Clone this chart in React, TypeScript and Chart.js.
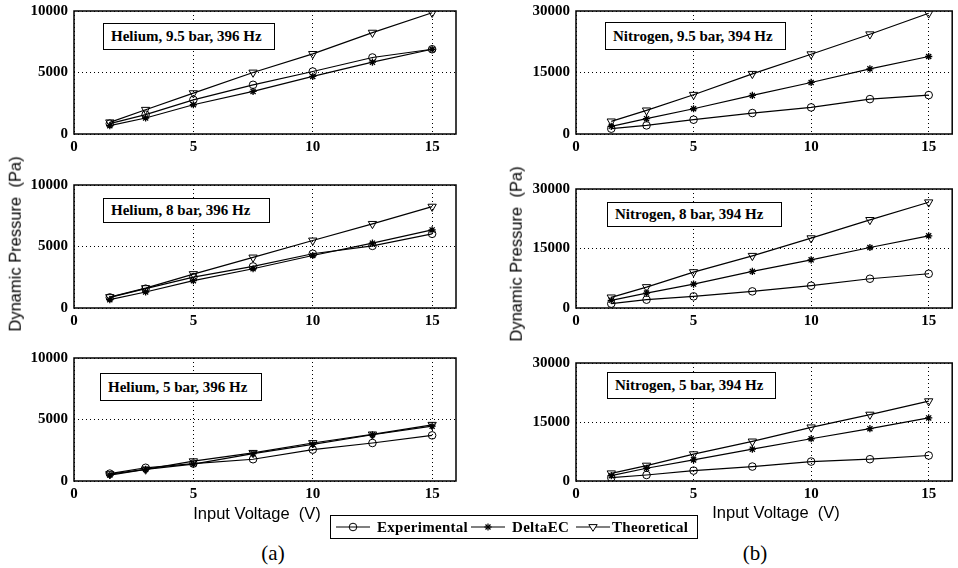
import React, { useEffect, useRef } from "react";
import { Chart, registerables } from "chart.js";

Chart.register(...registerables);

// ---------- data ----------
const voltages = [1.5, 3, 5, 7.5, 10, 12.5, 15];
const xTicks = [0, 5, 10, 15];
const heliumYTicks = [0, 5000, 10000];
const nitrogenYTicks = [0, 15000, 30000];
const seriesNames = ["Experimental", "DeltaEC", "Theoretical"];

const he95Exp = [840, 1570, 2780, 4000, 5080, 6220, 6890];
const he95Delta = [680, 1300, 2380, 3460, 4680, 5840, 6890];
const he95Theo = [950, 1970, 3320, 5000, 6510, 8240, 9860];

const he8Exp = [860, 1570, 2510, 3380, 4410, 5050, 6030];
const he8Delta = [680, 1300, 2220, 3190, 4270, 5270, 6350];
const he8Theo = [890, 1620, 2760, 4110, 5490, 6840, 8240];

const he5Exp = [600, 1075, 1420, 1770, 2550, 3090, 3710];
const he5Delta = [480, 940, 1370, 2230, 2980, 3760, 4460];
const he5Theo = [560, 940, 1610, 2290, 3090, 3790, 4570];

const n95Exp = [1300, 2100, 3490, 5110, 6490, 8510, 9490];
const n95Delta = [1870, 3730, 6160, 9400, 12570, 15900, 18900];
const n95Theo = [3080, 5760, 9570, 14680, 19460, 24330, 29440];

const n8Exp = [1090, 2100, 2930, 4190, 5620, 7380, 8630];
const n8Delta = [1930, 3770, 6030, 9220, 12150, 15250, 18190];
const n8Theo = [2680, 5280, 9050, 13160, 17600, 22210, 26650];

const n5Exp = [850, 1530, 2640, 3670, 4940, 5540, 6480];
const n5Delta = [1360, 3240, 5370, 8100, 10740, 13300, 16030];
const n5Theo = [1960, 3920, 6820, 10060, 13640, 16880, 20290];

// ---------- layout ----------
const SERIF = '"Liberation Serif", "Times New Roman", serif';
const SANS = '"Liberation Sans", Arial, sans-serif';
const Y_AXIS_W = 60;
const TOP_PAD = 18;
const X_AXIS_H = 28;

type PanelDef = {
  label: string;
  plot: { l: number; t: number; r: number; b: number };
  box: { x: number; y: number; w: number; h: number };
  yTicks: number[];
  exp: number[];
  delta: number[];
  theo: number[];
};

const panels: PanelDef[] = [
  { label: "Helium, 9.5 bar, 396 Hz", plot: { l: 74, t: 11, r: 456, b: 134 }, box: { x: 103, y: 23, w: 172, h: 27 }, yTicks: heliumYTicks, exp: he95Exp, delta: he95Delta, theo: he95Theo },
  { label: "Helium, 8 bar, 396 Hz", plot: { l: 74, t: 185, r: 456, b: 308 }, box: { x: 103, y: 198, w: 167, h: 25 }, yTicks: heliumYTicks, exp: he8Exp, delta: he8Delta, theo: he8Theo },
  { label: "Helium, 5 bar, 396 Hz", plot: { l: 74, t: 358, r: 456, b: 481 }, box: { x: 100, y: 373, w: 162, h: 28 }, yTicks: heliumYTicks, exp: he5Exp, delta: he5Delta, theo: he5Theo },
  { label: "Nitrogen, 9.5 bar, 394 Hz", plot: { l: 576, t: 11, r: 957, b: 134 }, box: { x: 605, y: 22, w: 181, h: 28 }, yTicks: nitrogenYTicks, exp: n95Exp, delta: n95Delta, theo: n95Theo },
  { label: "Nitrogen, 8 bar, 394 Hz", plot: { l: 576, t: 189, r: 957, b: 308 }, box: { x: 607, y: 202, w: 175, h: 25 }, yTicks: nitrogenYTicks, exp: n8Exp, delta: n8Delta, theo: n8Theo },
  { label: "Nitrogen, 5 bar, 394 Hz", plot: { l: 576, t: 363, r: 957, b: 481 }, box: { x: 607, y: 372, w: 169, h: 27 }, yTicks: nitrogenYTicks, exp: n5Exp, delta: n5Delta, theo: n5Theo },
];

const framePlugin = {
  id: "frame",
  beforeDatasetsDraw(chart: any) {
    const { ctx, chartArea } = chart;
    ctx.save();
    ctx.strokeStyle = "#000";
    ctx.lineWidth = 1.5;
    ctx.strokeRect(chartArea.left, chartArea.top, chartArea.right - chartArea.left, chartArea.bottom - chartArea.top);
    ctx.restore();
  },
};

const markerStyles = [
  { pointStyle: "circle", pointRadius: 3.8, pointRotation: 0, pointBorderWidth: 1 },
  { pointStyle: "star", pointRadius: 3.6, pointRotation: 0, pointBorderWidth: 1.3 },
  { pointStyle: "triangle", pointRadius: 4.8, pointRotation: 180, pointBorderWidth: 1 },
];

function Panel({ p }: { p: PanelDef }) {
  const ref = useRef<HTMLCanvasElement>(null);
  const rightPad = p.plot.r >= 950 ? 958 - p.plot.r : 10;
  const w = Y_AXIS_W + (p.plot.r - p.plot.l) + rightPad;
  const h = TOP_PAD + (p.plot.b - p.plot.t) + X_AXIS_H;
  const left = p.plot.l - Y_AXIS_W;
  const top = p.plot.t - TOP_PAD;

  useEffect(() => {
    const seriesVals = [p.exp, p.delta, p.theo];
    const datasets = seriesVals.map((vals, si) => ({
      label: seriesNames[si],
      data: voltages.map((v, i) => ({ x: v, y: vals[i] })),
      borderColor: "#000",
      borderWidth: 1.2,
      pointBorderColor: "#000",
      pointBackgroundColor: "rgba(0,0,0,0)",
      ...markerStyles[si],
      tension: 0,
      fill: false,
    }));
    const tickFont = { family: SERIF, size: 15, weight: "bold" as const };
    const yMax = p.yTicks[p.yTicks.length - 1];
    const chart = new Chart(ref.current as HTMLCanvasElement, {
      type: "line",
      data: { datasets: datasets as any },
      options: {
        animation: false,
        responsive: false,
        events: [],
        layout: { padding: { top: TOP_PAD, right: rightPad, left: 0, bottom: 0 } },
        plugins: { legend: { display: false }, tooltip: { enabled: false } },
        scales: {
          x: {
            type: "linear",
            min: 0,
            max: 16,
            afterBuildTicks: (s: any) => {
              s.ticks = xTicks.map((v) => ({ value: v }));
            },
            afterFit: (s: any) => {
              s.height = X_AXIS_H;
            },
            grid: { color: "#000", lineWidth: 1, drawTicks: false },
            border: { display: false, dash: [1, 3] },
            ticks: { color: "#000", font: tickFont, padding: 4, maxRotation: 0, callback: (v: any) => String(v) },
          },
          y: {
            type: "linear",
            min: 0,
            max: yMax,
            afterBuildTicks: (s: any) => {
              s.ticks = p.yTicks.map((v) => ({ value: v }));
            },
            afterFit: (s: any) => {
              s.width = Y_AXIS_W;
            },
            grid: { color: "#000", lineWidth: 1, drawTicks: false },
            border: { display: false, dash: [1, 3] },
            ticks: { color: "#000", font: tickFont, padding: 6, callback: (v: any) => String(v) },
          },
        },
      },
      plugins: [framePlugin],
    });
    return () => chart.destroy();
  }, []);

  return (
    <>
      <canvas
        ref={ref}
        width={w}
        height={h}
        style={{ position: "absolute", left, top, width: w, height: h }}
      />
      <div
        style={{
          position: "absolute",
          left: p.box.x,
          top: p.box.y,
          width: p.box.w,
          height: p.box.h,
          boxSizing: "border-box",
          border: "1.2px solid #000",
          background: "#fff",
          fontFamily: SERIF,
          fontWeight: "bold",
          fontSize: 15,
          display: "flex",
          alignItems: "center",
          paddingLeft: 7,
          whiteSpace: "nowrap",
        }}
      >
        {p.label}
      </div>
    </>
  );
}

function LegendSample({ kind }: { kind: number }) {
  return (
    <svg width={34} height={14} style={{ display: "block" }}>
      <line x1={0} y1={7} x2={34} y2={7} stroke="#000" strokeWidth={1.2} />
      {kind === 0 && <circle cx={17} cy={7} r={3.8} fill="none" stroke="#000" strokeWidth={1} />}
      {kind === 1 && (
        <g stroke="#000" strokeWidth={1.2}>
          <line x1={17} y1={3.4} x2={17} y2={10.6} />
          <line x1={13.4} y1={7} x2={20.6} y2={7} />
          <line x1={14.5} y1={4.5} x2={19.5} y2={9.5} />
          <line x1={14.5} y1={9.5} x2={19.5} y2={4.5} />
        </g>
      )}
      {kind === 2 && <polygon points="12.8,4.6 21.2,4.6 17,11.3" fill="#fff" stroke="#000" strokeWidth={1} />}
    </svg>
  );
}

const legendItems = [
  { sx: 5, tx: 46 },
  { sx: 140, tx: 181 },
  { sx: 245, tx: 281 },
];

export default function App() {
  return (
    <div
      style={{
        position: "absolute",
        left: 0,
        top: 0,
        width: 958,
        height: 568,
        background: "#fff",
        overflow: "hidden",
      }}
    >
      {panels.map((p, i) => (
        <Panel key={i} p={p} />
      ))}

      {/* y axis titles */}
      {[{ x: 15, y: 244 }, { x: 516, y: 254 }].map((c, i) => (
        <div
          key={"yl" + i}
          style={{
            position: "absolute",
            left: c.x,
            top: c.y,
            transform: "translate(-50%, -50%) rotate(-90deg)",
            fontFamily: SANS,
            fontSize: 16.5,
            whiteSpace: "pre",
            lineHeight: 1,
          }}
        >
          {"Dynamic Pressure  (Pa)"}
        </div>
      ))}

      {/* x axis titles */}
      {[{ x: 257, y: 513 }, { x: 776, y: 512 }].map((c, i) => (
        <div
          key={"xl" + i}
          style={{
            position: "absolute",
            left: c.x,
            top: c.y,
            transform: "translate(-50%, -50%)",
            fontFamily: SANS,
            fontSize: 16.5,
            whiteSpace: "pre",
            lineHeight: 1,
          }}
        >
          {"Input Voltage  (V)"}
        </div>
      ))}

      {/* sub-figure labels */}
      {[{ x: 273, y: 553, t: "(a)" }, { x: 755, y: 553, t: "(b)" }].map((c, i) => (
        <div
          key={"sl" + i}
          style={{
            position: "absolute",
            left: c.x,
            top: c.y,
            transform: "translate(-50%, -50%)",
            fontFamily: SERIF,
            fontSize: 21,
            lineHeight: 1,
          }}
        >
          {c.t}
        </div>
      ))}

      {/* legend */}
      <div
        style={{
          position: "absolute",
          left: 330,
          top: 515,
          width: 368,
          height: 24,
          boxSizing: "border-box",
          border: "1.2px solid #000",
          background: "#fff",
        }}
      >
        {seriesNames.map((name, i) => (
          <React.Fragment key={name}>
            <div style={{ position: "absolute", left: legendItems[i].sx, top: 4 }}>
              <LegendSample kind={i} />
            </div>
            <div
              style={{
                position: "absolute",
                left: legendItems[i].tx,
                top: 0,
                height: 22,
                display: "flex",
                alignItems: "center",
                fontFamily: SERIF,
                fontWeight: "bold",
                fontSize: 15,
                whiteSpace: "nowrap",
                letterSpacing: 0.3,
              }}
            >
              {name}
            </div>
          </React.Fragment>
        ))}
      </div>
    </div>
  );
}
